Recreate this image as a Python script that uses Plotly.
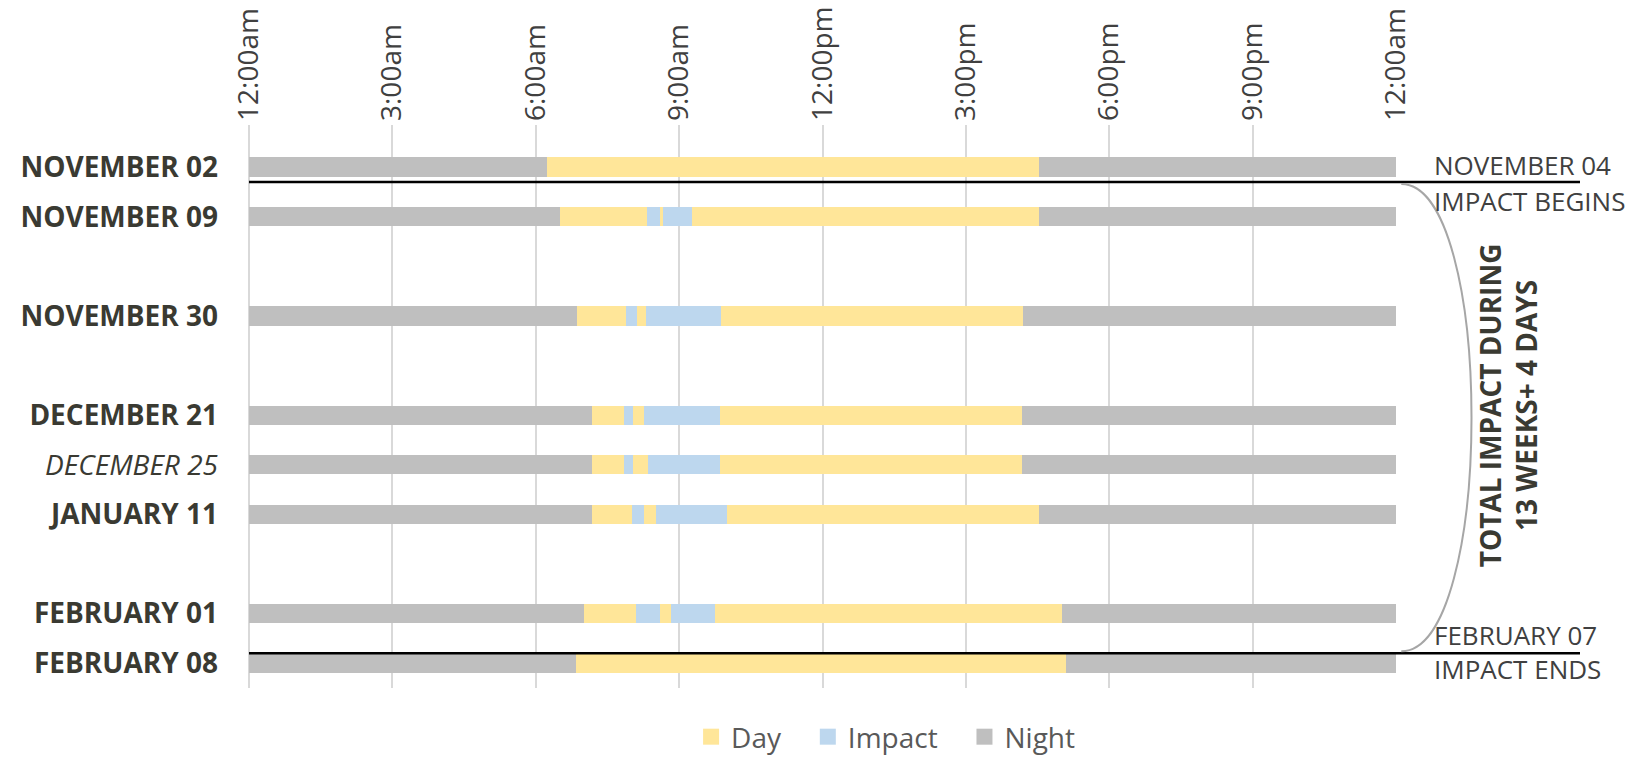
import plotly.graph_objects as go

# ---------------- data ----------------
row_labels = ["<b>NOVEMBER 02</b>", "<b>NOVEMBER 09</b>", "<b>NOVEMBER 30</b>",
              "<b>DECEMBER 21</b>", "<i>DECEMBER 25</i>", "<b>JANUARY 11</b>",
              "<b>FEBRUARY 01</b>", "<b>FEBRUARY 08</b>"]
row_slots = [0, 1, 3, 5, 6, 7, 9, 10]

# segment durations in hours, left to right
night_am = [6.23, 6.50, 6.87, 7.18, 7.18, 7.18, 7.01, 6.84]
day_1    = [10.31, 1.83, 1.01, 0.67, 0.67, 0.84, 1.08, 10.25]
impact_1 = [0, 0.26, 0.24, 0.18, 0.18, 0.25, 0.50, 0]
day_2    = [0, 0.08, 0.19, 0.24, 0.32, 0.24, 0.25, 0]
impact_2 = [0, 0.59, 1.57, 1.59, 1.51, 1.49, 0.92, 0]
day_3    = [0, 7.26, 6.32, 6.31, 6.31, 6.52, 7.26, 0]
night_pm = [7.46, 7.48, 7.80, 7.83, 7.83, 7.48, 6.98, 6.91]

tick_hours = [0, 3, 6, 9, 12, 15, 18, 21, 24]
tick_labels = ["12:00am", "3:00am", "6:00am", "9:00am", "12:00pm",
               "3:00pm", "6:00pm", "9:00pm", "12:00am"]

legend_names = ["Day", "Impact", "Night"]

impact_start_slot = 0.3
impact_end_slot = 9.8

# ---------------- style ----------------
C_DAY, C_IMP, C_NIGHT = "#FFE699", "#BDD7EE", "#BFBFBF"
FONT = "Open Sans, Segoe UI, sans-serif"
Y_LO, Y_HI = -0.85, 10.5

def py(v):
    return (Y_HI - v) / (Y_HI - Y_LO)

def px(h):
    return h / 24.0

fig = go.Figure()
segments = [(night_am, C_NIGHT, "Night"), (day_1, C_DAY, "Day"), (impact_1, C_IMP, "Impact"),
            (day_2, C_DAY, "Day"), (impact_2, C_IMP, "Impact"), (day_3, C_DAY, "Day"),
            (night_pm, C_NIGHT, "Night")]
for vals, col, name in segments:
    fig.add_trace(go.Bar(x=vals, y=row_slots, orientation="h", width=0.39,
                         marker=dict(color=col, line=dict(width=0)),
                         name=name, showlegend=False, hoverinfo="skip"))

pad = ["\u00a0\u00a0\u00a0", "\u00a0\u00a0\u00a0", ""]
for rank, (name, col) in enumerate(zip(legend_names, [C_DAY, C_IMP, C_NIGHT])):
    fig.add_trace(go.Scatter(x=[None], y=[None], mode="markers", name=name + pad[rank],
                             marker=dict(symbol="square", size=16, color=col),
                             legendrank=rank + 1))

# impact boundary lines
for s in (impact_start_slot, impact_end_slot):
    fig.add_shape(type="line", xref="paper", yref="paper", x0=0, x1=px(27.85),
                  y0=py(s), y1=py(s), line=dict(color="#000000", width=2.5), layer="above")

# bracket
x0 = px(24.11)
a = px(1.96)
y0, y3 = py(impact_start_slot + 0.04), py(impact_end_slot - 0.04)
fig.add_shape(type="path", xref="paper", yref="paper",
              path=f"M {x0},{y0} C {x0 + a},{y0} {x0 + a},{y3} {x0},{y3}",
              line=dict(color="#A6A6A6", width=2))

ann_font = dict(family=FONT, size=26, color="#404040")
xa = px(24.77)
common = dict(xref="paper", yref="paper", x=xa, xanchor="left", showarrow=False,
              font=ann_font, borderpad=0)
fig.add_annotation(y=py(impact_start_slot), text="NOVEMBER 04", yanchor="bottom", yshift=-2, **common)
fig.add_annotation(y=py(impact_start_slot), text="IMPACT BEGINS", yanchor="top", yshift=0, **common)
fig.add_annotation(y=py(impact_end_slot), text="FEBRUARY 07", yanchor="bottom", yshift=-1, **common)
fig.add_annotation(y=py(impact_end_slot), text="IMPACT ENDS", yanchor="top", yshift=3, **common)
fig.add_annotation(xref="paper", yref="paper", x=px(27.16), y=py(4.8),
                   text="<b>TOTAL IMPACT DURING<br>13 WEEKS+ 4 DAYS</b>", textangle=-90,
                   showarrow=False, font=dict(family=FONT, size=28, color="#3A3A32"))

fig.update_layout(
    width=1632, height=750,
    margin=dict(l=241, r=244, t=117, b=70, autoexpand=False),
    paper_bgcolor="white", plot_bgcolor="white",
    barmode="stack", bargap=0,
    font=dict(family=FONT),
    xaxis=dict(range=[0, 24], side="top", tickvals=tick_hours, ticktext=tick_labels,
               tickangle=-90, showgrid=True, gridcolor="#D9D9D9", gridwidth=2,
               zeroline=True, zerolinecolor="#D9D9D9", zerolinewidth=2,
               showline=False, ticks="", automargin=False, ticklabelstandoff=3,
               tickfont=dict(family=FONT, size=28, color="#404040"),
               fixedrange=True),
    yaxis=dict(range=[Y_HI, Y_LO], tickvals=row_slots, ticktext=row_labels,
               showgrid=False, zeroline=False, showline=False, ticks="",
               ticklabelstandoff=30, automargin=False,
               tickfont=dict(family=FONT, size=28, color="#3A3A32"), fixedrange=True),
    legend=dict(orientation="h", traceorder="normal", x=0.555, xanchor="center",
                y=-0.087, yanchor="middle",
                font=dict(family=FONT, size=28, color="#595959"), itemwidth=30),
)

fig.write_html("out.html")
